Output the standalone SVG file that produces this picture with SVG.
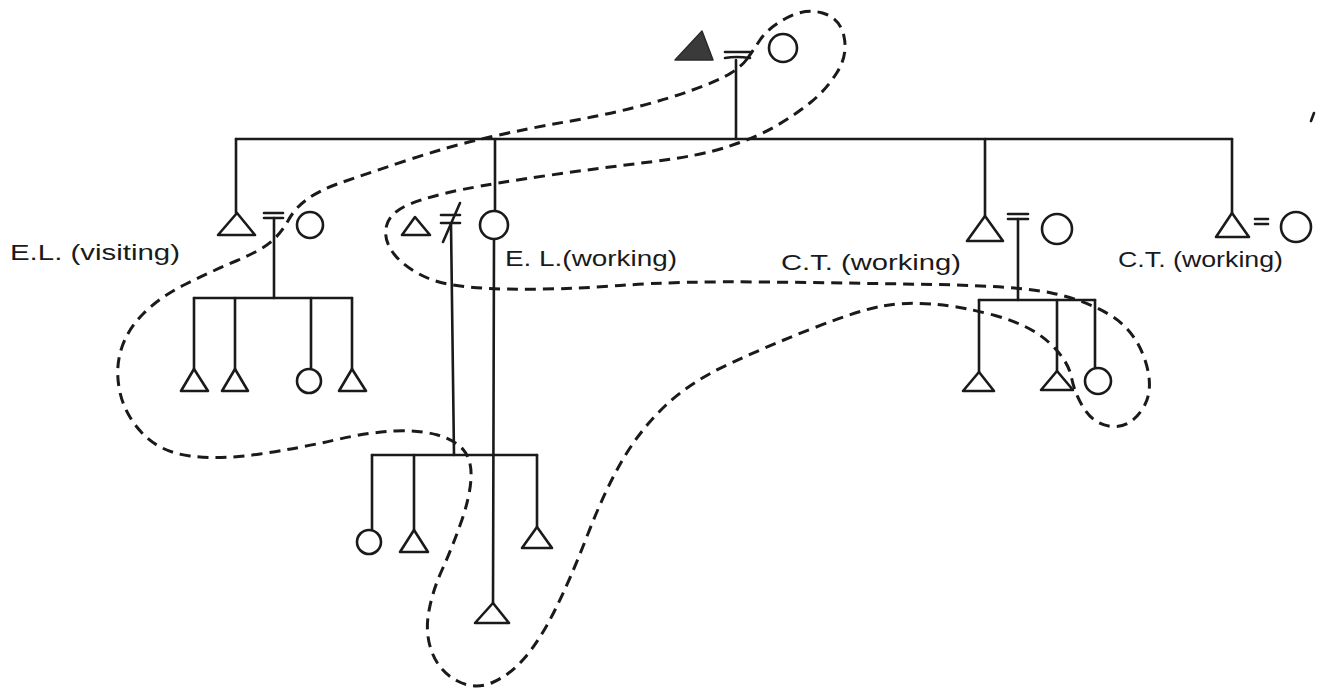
<svg xmlns="http://www.w3.org/2000/svg" width="1324" height="693" viewBox="0 0 1324 693">
  <style>
    .ln { stroke: #1a1a1a; stroke-width: 2.6; fill: none; stroke-linecap: round; stroke-linejoin: round; }
    .sym { stroke: #1a1a1a; stroke-width: 2.6; fill: #ffffff; stroke-linejoin: round; }
    .solid { fill: #3a3a3a; stroke: #2a2a2a; stroke-width: 1.5; stroke-linejoin: round; }
    .dash { stroke: #1a1a1a; stroke-width: 3; fill: none; stroke-dasharray: 11 7; stroke-linecap: butt; }
    .lbl { font-family: "Liberation Sans", "DejaVu Sans", sans-serif; font-size: 22px; fill: #1a1a1a; }
  </style>
  <rect width="1324" height="693" fill="#ffffff"/>

  <!-- descent and sibling lines -->
  <g id="connectors">
    <line class="ln" x1="736" y1="60" x2="736" y2="139"/>
    <line class="ln" x1="236" y1="139" x2="1232" y2="139"/>
    <line class="ln" x1="236" y1="139" x2="236" y2="213"/>
    <line class="ln" x1="495" y1="139" x2="495" y2="211"/>
    <line class="ln" x1="985" y1="139" x2="985" y2="216"/>
    <line class="ln" x1="1232" y1="139" x2="1232" y2="213"/>
    <!-- left family -->
    <line class="ln" x1="274" y1="218" x2="274" y2="298"/>
    <line class="ln" x1="194" y1="298" x2="352" y2="298"/>
    <line class="ln" x1="194" y1="298" x2="194" y2="369"/>
    <line class="ln" x1="235" y1="298" x2="235" y2="369"/>
    <line class="ln" x1="311" y1="298" x2="311" y2="369"/>
    <line class="ln" x1="352" y1="298" x2="352" y2="369"/>
    <!-- middle family -->
    <line class="ln" x1="451" y1="224" x2="454" y2="455"/>
    <line class="ln" x1="372" y1="455" x2="537" y2="455"/>
    <line class="ln" x1="372" y1="455" x2="372" y2="530"/>
    <line class="ln" x1="414" y1="455" x2="414" y2="530"/>
    <line class="ln" x1="537" y1="455" x2="537" y2="527"/>
    <line class="ln" x1="494" y1="239" x2="493" y2="603"/>
    <!-- right family -->
    <line class="ln" x1="1018" y1="219" x2="1018" y2="300"/>
    <line class="ln" x1="979" y1="300" x2="1095" y2="300"/>
    <line class="ln" x1="979" y1="300" x2="979" y2="372"/>
    <line class="ln" x1="1057" y1="300" x2="1057" y2="371"/>
    <line class="ln" x1="1095" y1="300" x2="1095" y2="368"/>
  </g>

  <!-- founding couple -->
  <g id="top-couple">
    <polygon class="solid" points="675,60 702,31 713,60"/>
    <line class="ln" x1="725" y1="52" x2="750" y2="52"/>
    <path class="ln" d="M725,58 Q736,56 750,58"/>
    <circle class="sym" cx="783" cy="48" r="14"/>
  </g>

  <g id="left-couple">
    <polygon class="sym" points="218,235 237,213 255,235"/>
    <line class="ln" x1="264" y1="213" x2="283" y2="213"/>
    <line class="ln" x1="264" y1="218" x2="283" y2="218"/>
    <circle class="sym" cx="310" cy="225" r="13"/>
  </g>

  <g id="left-children">
    <polygon class="sym" points="181,391 194,369 208,391"/>
    <polygon class="sym" points="222,391 235,369 248,391"/>
    <circle class="sym" cx="309" cy="381" r="12"/>
    <polygon class="sym" points="339,391 352,369 366,391"/>
  </g>

  <g id="middle-couple">
    <polygon class="sym" points="402,235 415,217 430,235"/>
    <line class="ln" x1="441" y1="215" x2="460" y2="215"/>
    <line class="ln" x1="441" y1="223" x2="460" y2="223"/>
    <line class="ln" x1="460" y1="203" x2="443" y2="242"/>
    <circle class="sym" cx="494" cy="225" r="14"/>
  </g>

  <g id="middle-children">
    <circle class="sym" cx="369" cy="542" r="12"/>
    <polygon class="sym" points="400,552 414,530 428,552"/>
    <polygon class="sym" points="522,548 537,527 552,548"/>
    <polygon class="sym" points="475,623 493,603 509,623"/>
  </g>

  <g id="right-couple">
    <polygon class="sym" points="967,241 985,216 1003,241"/>
    <line class="ln" x1="1008" y1="214" x2="1028" y2="214"/>
    <line class="ln" x1="1008" y1="219" x2="1028" y2="219"/>
    <circle class="sym" cx="1057" cy="229" r="15"/>
  </g>

  <g id="right-children">
    <polygon class="sym" points="963,391 979,372 994,391"/>
    <polygon class="sym" points="1041,390 1057,371 1073,390"/>
    <circle class="sym" cx="1098" cy="381" r="13"/>
  </g>

  <g id="far-right-couple">
    <polygon class="sym" points="1216,237 1232,213 1249,237"/>
    <line class="ln" x1="1255" y1="219" x2="1268" y2="219"/>
    <line class="ln" x1="1255" y1="224" x2="1268" y2="224"/>
    <circle class="sym" cx="1296" cy="227" r="15"/>
  </g>

  <g id="labels">
    <text class="lbl" x="10" y="260" textLength="170" lengthAdjust="spacingAndGlyphs">E.L. (visiting)</text>
    <text class="lbl" x="505" y="266" textLength="172" lengthAdjust="spacingAndGlyphs">E. L.(working)</text>
    <text class="lbl" x="781" y="270" textLength="180" lengthAdjust="spacingAndGlyphs">C.T. (working)</text>
    <text class="lbl" x="1118" y="267" textLength="165" lengthAdjust="spacingAndGlyphs">C.T. (working)</text>
  </g>

  <!-- dashed boundary enclosing the related households -->
  <g id="boundary">
    <path class="dash" d="M747,59 Q752,52 760,40 Q768,28 786.5,18 Q805,8 822.5,13 Q840,18 844,36.5 Q848,55 837,72.5 Q826,90 810.5,102.5 Q795,115 776,126 Q757,137 728.5,146.5 Q700,156 650,162 Q600,168 547.5,175.5 Q495,183 462.5,189.5 Q430,196 410,204 Q390,212 386.5,226 Q383,240 394,254 Q405,268 427.5,278 Q450,288 505,289 Q560,290 620,285.5 Q680,281 765,282 Q850,283 934,284.5 Q1018,286 1051.5,293 Q1085,300 1110,315 Q1135,330 1145,360 Q1155,390 1142.5,409 Q1130,428 1112.5,426.5 Q1095,425 1085,410 Q1075,395 1071.5,377.5 Q1068,360 1049,342.5 Q1030,325 995,315.5 Q960,306 932.5,304 Q905,302 882.5,306 Q860,310 815,327.5 Q770,345 730,363.5 Q690,382 665,406 Q640,430 622.5,460 Q605,490 587.5,535 Q570,580 555,610 Q540,640 525,657.5 Q510,675 492.5,682.5 Q475,690 457.5,681 Q440,672 432.5,653.5 Q425,635 428.5,613.5 Q432,592 442,570 Q452,548 461,522.5 Q470,497 471,478.5 Q472,460 463.5,450 Q455,440 437.5,435 Q420,430 395,431 Q370,432 335,440 Q300,448 260,454 Q220,460 190,456 Q160,452 142.5,433.5 Q125,415 120,392.5 Q115,370 121,350 Q127,330 143.5,313.5 Q160,297 185,284.5 Q210,272 236,261 Q262,250 272,241 Q282,232 288.5,220 Q295,208 307.5,199 Q320,190 340,183 Q360,176 405,161 Q450,146 490,137 Q530,128 565,122 Q600,116 632.5,108 Q665,100 692.5,90 Q720,80 731,73 Q742,66 747,59 Z"/>
  </g>

  <!-- stray pen mark -->
  <path class="ln" d="M1314,113 L1311,121"/>
</svg>
